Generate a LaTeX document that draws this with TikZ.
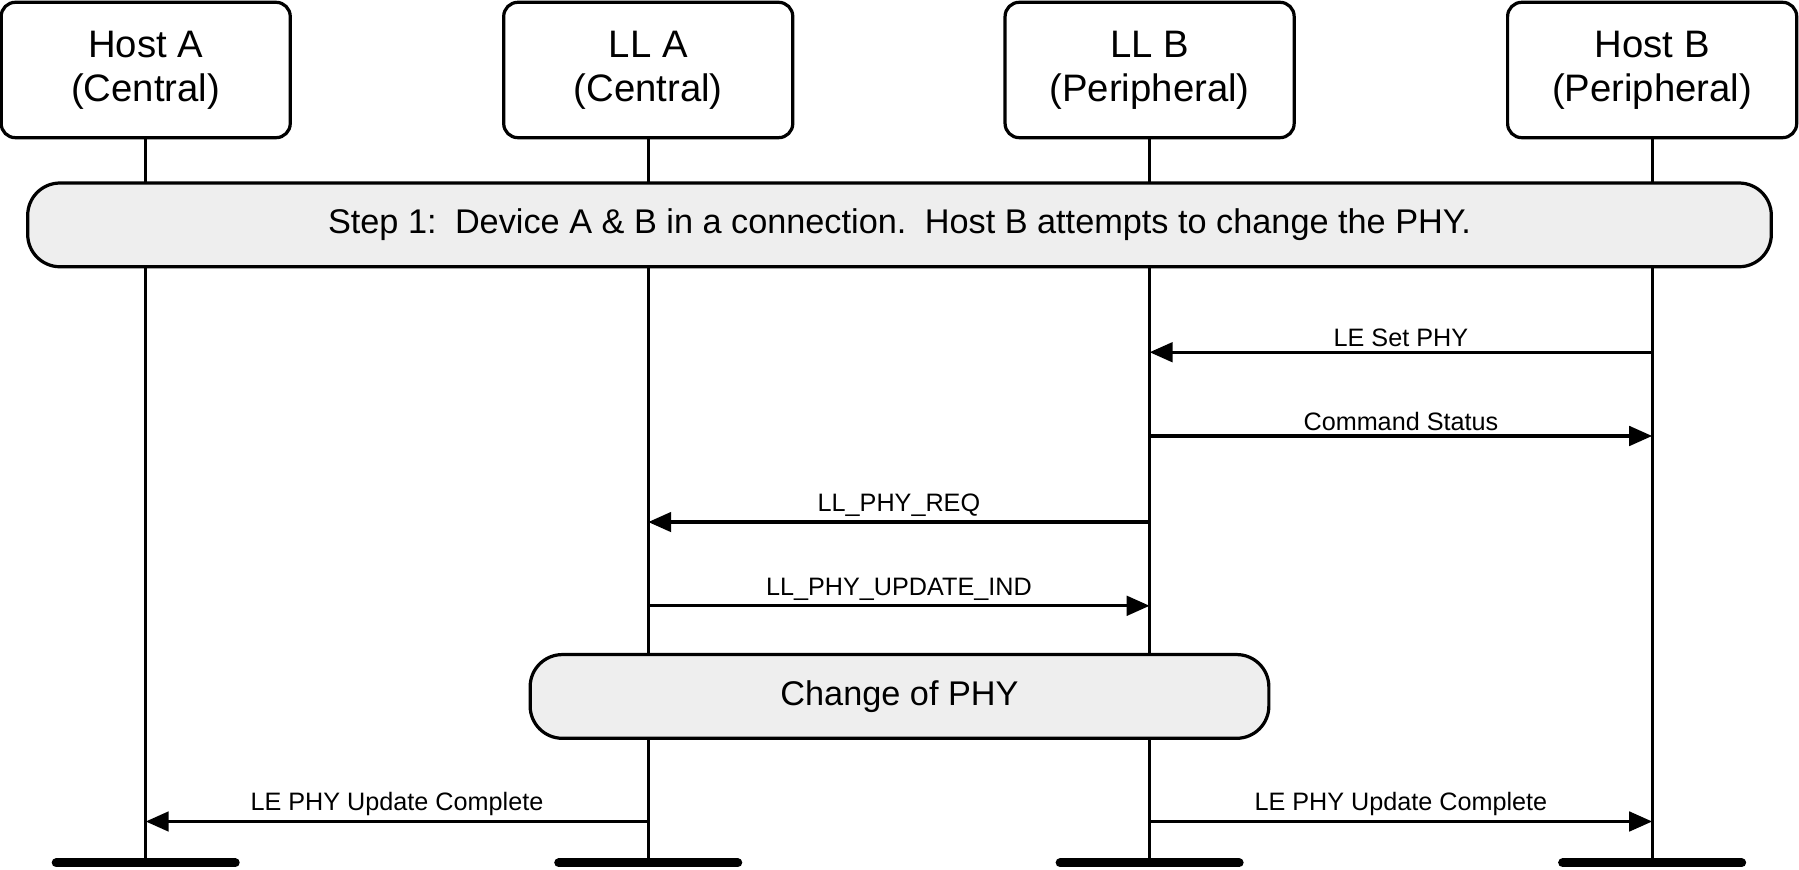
\documentclass[tikz,border=0pt]{standalone}
\usepackage{fontspec}
\setmainfont{Liberation Sans}
\usetikzlibrary{arrows.meta}
\definecolor{boxgray}{HTML}{EEEEEE}
\tikzset{
  party/.style={draw, line width=1.6pt, rounded corners=7pt, minimum width=5.04cm,
    minimum height=2.36cm, align=center, font=\fontsize{19}{22}\selectfont},
  phase/.style={draw, line width=1.6pt, fill=boxgray, rounded corners=16pt,
    minimum height=1.46cm, font=\fontsize{17}{20}\selectfont},
  life/.style={line width=1.6pt},
  msg/.style={line width=1.6pt, -{Triangle[length=0.4cm, width=0.34cm]}},
  lbl/.style={above, font=\fontsize{12.5}{14}\selectfont, inner sep=2pt}
}
\begin{document}
\begin{tikzpicture}[x=0.02cm, y=-0.02cm]
  \useasboundingbox (0,0) rectangle (1568,758);
  % parties
  \node[party] (hostA) at (127,61) {Host A\\(Central)};
  \node[party] (llA) at (565,61) {LL A\\(Central)};
  \node[party] (llB) at (1002,61) {LL B\\(Peripheral)};
  \node[party] (hostB) at (1440,61) {Host B\\(Peripheral)};

  % lifelines and bottom bars
  \foreach \p/\x in {hostA/127, llA/565, llB/1002, hostB/1440} {
    \coordinate (\p-end) at (\x,752);
    \draw[life] (\p) -- (\p-end);
    \draw[line width=4.5pt, line cap=round] (\x-78,752) -- (\x+78,752);
  }

  % phases
  \node[phase, minimum width=30.4cm] (step1) at (784,196)
    {Step 1:\, Device A \& B in a connection.\, Host B attempts to change the PHY.};
  \node[phase, minimum width=12.88cm] (change) at (784,607) {Change of PHY};

  % messages
  \foreach \n/\x/\y in {hB/1440/307, lB/1002/307, lB2/1002/380, hB2/1440/380,
      lB3/1002/455, lA3/565/455, lA4/565/528, lB4/1002/528,
      lA5/565/716, hA5/127/716, lB6/1002/716, hB6/1440/716}
    \coordinate (\n) at (\x,\y);
  \draw[msg] (hB) -- node[lbl] {LE Set PHY} (lB);
  \draw[msg] (lB2) -- node[lbl] {Command Status} (hB2);
  \draw[msg] (lB3) -- node[lbl] {LL\_PHY\_REQ} (lA3);
  \draw[msg] (lA4) -- node[lbl] {LL\_PHY\_UPDATE\_IND} (lB4);
  \draw[msg] (lA5) -- node[lbl] {LE PHY Update Complete} (hA5);
  \draw[msg] (lB6) -- node[lbl] {LE PHY Update Complete} (hB6);
\end{tikzpicture}
\end{document}
